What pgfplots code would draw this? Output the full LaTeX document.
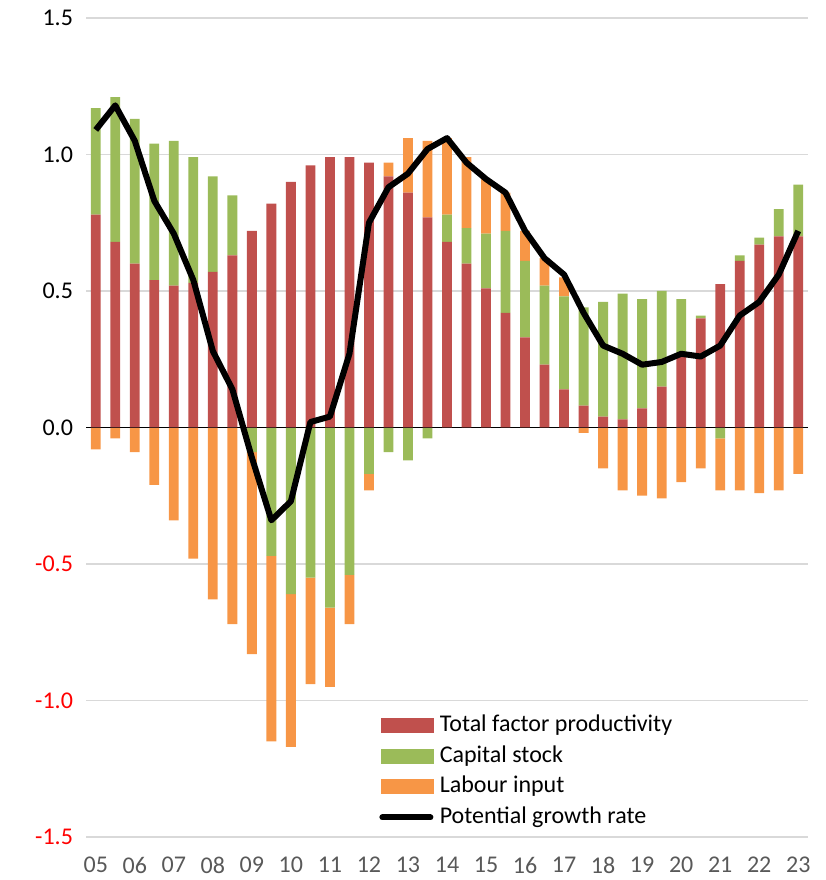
\documentclass[border=0pt]{standalone}
\usepackage{fontspec}
\setmainfont{Carlito}
\usepackage{pgfplots}
\usepackage{pgfplotstable}
\pgfplotsset{compat=1.18}

\definecolor{ctfp}{HTML}{C0504D}
\definecolor{ccap}{HTML}{9BBB59}
\definecolor{clab}{HTML}{F79646}
\definecolor{gridgray}{HTML}{D9D9D9}
\definecolor{xlab}{HTML}{595959}

% half-year points, 05H1 = 0 ... 23H1 = 36; positive and negative parts kept apart
\pgfplotstableread{
i  tfp   capp  labp  capn   labn   pgr
0  0.78  0.39  0     0      -0.08  1.09
1  0.68  0.53  0     0      -0.04  1.18
2  0.60  0.53  0     0      -0.09  1.05
3  0.54  0.50  0     0      -0.21  0.83
4  0.52  0.53  0     0      -0.34  0.71
5  0.53  0.46  0     0      -0.48  0.54
6  0.57  0.35  0     0      -0.63  0.28
7  0.63  0.22  0     0      -0.72  0.14
8  0.72  0     0     -0.09  -0.74  -0.11
9  0.82  0     0     -0.47  -0.68  -0.34
10 0.90  0     0     -0.61  -0.56  -0.27
11 0.96  0     0     -0.55  -0.39  0.02
12 0.99  0     0     -0.66  -0.29  0.04
13 0.99  0     0     -0.54  -0.18  0.27
14 0.97  0     0     -0.17  -0.06  0.75
15 0.92  0     0.05  -0.09  0      0.88
16 0.86  0     0.20  -0.12  0      0.93
17 0.77  0     0.28  -0.04  0      1.02
18 0.68  0.10  0.28  0      0      1.06
19 0.60  0.13  0.26  0      0      0.97
20 0.51  0.20  0.20  0      0      0.91
21 0.42  0.30  0.14  0      0      0.86
22 0.33  0.28  0.11  0      0      0.72
23 0.23  0.29  0.10  0      0      0.62
24 0.14  0.34  0.07  0      0      0.56
25 0.08  0.36  0     0      -0.02  0.42
26 0.04  0.42  0     0      -0.15  0.30
27 0.03  0.46  0     0      -0.23  0.27
28 0.07  0.40  0     0      -0.25  0.23
29 0.15  0.35  0     0      -0.26  0.24
30 0.27  0.20  0     0      -0.20  0.27
31 0.40  0.01  0     0      -0.15  0.26
32 0.525 0     0     -0.04  -0.19  0.30
33 0.61  0.02  0     0      -0.23  0.41
34 0.67  0.025 0     0      -0.24  0.46
35 0.70  0.10  0     0      -0.23  0.56
36 0.70  0.19  0     0      -0.17  0.72
}\data

\pgfplotsset{
  base/.style={scale only axis, width=361pt, height=409.5pt,
    xmin=-0.5, xmax=36.5, ymin=-1.5, ymax=1.5},
  bars/.style={ybar stacked, bar width=4.9pt},
}

\begin{document}
\begin{tikzpicture}
% axis with grid, labels and the negative parts
\begin{axis}[base, bars, name=ax,
    axis line style={draw=none}, tick style={draw=none},
    ymajorgrids, grid style={gridgray, line width=0.75pt},
    ytick={-1.5,-1,-0.5,0,0.5,1,1.5},
    yticklabels={\textcolor{red}{-1.5},\textcolor{red}{-1.0},\textcolor{red}{-0.5},0.0,0.5,1.0,1.5},
    xtick={0,2,...,36},
    xticklabels={05,06,07,08,09,10,11,12,13,14,15,16,17,18,19,20,21,22,23},
    tick label style={font=\fontsize{12}{14}\selectfont},
    yticklabel style={xshift=-3pt},
    xticklabel style={yshift=-6.5pt, text=xlab},
]
\addplot[fill=ccap, draw=none] table[x=i, y=capn]{\data};
\addplot[fill=clab, draw=none] table[x=i, y=labn]{\data};
\end{axis}
% positive parts
\begin{axis}[base, bars, hide axis]
\addplot[fill=ctfp, draw=none] table[x=i, y=tfp]{\data};
\addplot[fill=ccap, draw=none] table[x=i, y=capp]{\data};
\addplot[fill=clab, draw=none] table[x=i, y=labp]{\data};
\draw[black, line width=0.7pt] (axis cs:-0.5,0) -- (axis cs:36.5,0);
\end{axis}
% potential growth rate and legend
\begin{axis}[base, hide axis,
    legend cell align=left,
    legend style={at={(0.4058,0.1508)}, anchor=north west, draw=none, fill=none,
      inner sep=0pt, font=\fontsize{12}{14}\selectfont, row sep=3.25pt, column sep=3pt,
      nodes={inner sep=0pt, text height=9pt, text depth=3pt}},
]
\addlegendimage{legend image code/.code={\fill[ctfp] (0pt,-3.5pt) rectangle (26pt,3.5pt);}}
\addlegendimage{legend image code/.code={\fill[ccap] (0pt,-3.5pt) rectangle (26pt,3.5pt);}}
\addlegendimage{legend image code/.code={\fill[clab] (0pt,-3.5pt) rectangle (26pt,3.5pt);}}
\addplot[black, line width=3pt, line join=round, mark=none,
  legend image code/.code={\draw[black, line width=3pt, line cap=round] (0.5pt,0pt) -- (24.5pt,0pt);}]
  table[x=i, y=pgr]{\data};
\legend{Total factor productivity, Capital stock, Labour input, Potential growth rate}
\end{axis}
\pgfresetboundingbox
\path ([xshift=-43pt,yshift=-21.5pt]ax.south west) rectangle ([xshift=9pt,yshift=9pt]ax.north east);
\end{tikzpicture}
\end{document}
